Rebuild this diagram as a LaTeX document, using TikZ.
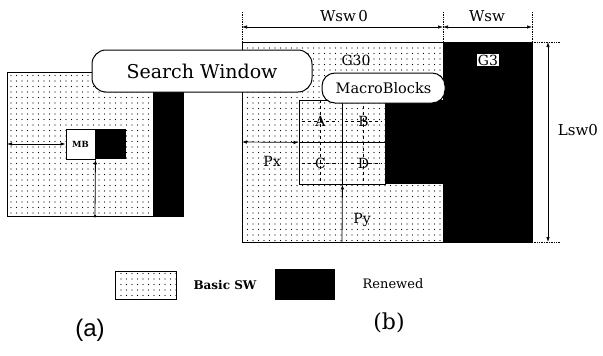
\documentclass[tikz,border=0pt]{standalone}
\usepackage{fontspec}
\setmainfont{DejaVu Serif}
\newfontfamily\capfont{Liberation Sans}
\usepackage{tikz}
\usetikzlibrary{arrows.meta, positioning, patterns.meta}

\begin{document}
\begin{tikzpicture}[
    x=1pt, y=-1pt,
    swarea/.style={pattern={Dots[distance=5.5pt, radius=0.6pt]}, pattern color=black},
    renew/.style={fill=black},
    frame/.style={draw, line width=0.9pt},
    bubble/.style={draw, line width=1pt, fill=white, rounded corners=14pt, align=center},
    cell/.style={draw, line width=0.9pt, minimum width=43pt, minimum height=42pt, inner sep=0pt},
    lbl/.style={inner sep=1pt, font=\fontsize{14}{17}\selectfont},
    dim/.style={{Latex[length=5pt, width=3.5pt]}-{Latex[length=5pt, width=3.5pt]}, line width=0.7pt},
    arr/.style={-{Latex[length=5pt, width=3.5pt]}, line width=0.8pt},
    ext/.style={densely dotted, line width=0.7pt}
  ]
    \useasboundingbox (0,0) rectangle (603,356);

    % (a) one search window
    \fill[swarea] (7,72) rectangle (153,216);
    \fill[renew] (153,72) rectangle (183,216);
    \draw[frame] (7,72) rectangle (183,216);
    \node[frame, fill=white, minimum width=29pt, minimum height=30pt, inner sep=0pt,
      font=\bfseries\fontsize{8.5}{10}\selectfont] (mb) at (80.5,144) {MB};
    \node[fill=black, minimum width=30pt, minimum height=30pt, inner sep=0pt, right=0pt of mb] (mbnew) {};
    \coordinate (aleft) at (7,144);
    \coordinate (abot) at (95,216);
    \draw[dim] (aleft) -- (mb.west);
    \draw[arr] (abot) -- (mb.south east);
    \fill (abot) circle (1.5pt);

    % (b) search window of the 2x2 macroblocks
    \fill[swarea] (242,42) rectangle (443,242);
    \fill[renew] (443,42) rectangle (532,242);
    \fill[renew] (385,100) rectangle (443,184);
    \draw[frame] (242,42) rectangle (532,242);

    \node[cell] (cella) at (320.5,121) {};
    \node[cell] (cellb) at (363.5,121) {};
    \node[cell] (cellc) at (320.5,163) {};
    \node[cell] (celld) at (363.5,163) {};
    \foreach \c in {cella, cellb, cellc, celld}
      \draw[dashed, line width=0.6pt, shorten <=3pt, shorten >=3pt]
        (\c.north) -- (\c.south) (\c.west) -- (\c.east);
    \node[lbl] (la) at (cella) {A};
    \node[lbl] (lb) at (cellb) {B};
    \node[lbl] (lc) at (cellc) {C};
    \node[lbl] (ld) at (celld) {D};

    \coordinate (pxl) at (242,142);
    \coordinate (pyb) at (342,242);
    \draw[dim] (pxl) -- (cella.south west);
    \draw[arr] (pyb) -- (cellc.south east);
    \node[lbl] (px) at (272,161) {Px};
    \node[lbl] (py) at (362,220) {Py};

    \node[lbl] (g30) at (356,60) {G30};
    \node[lbl, fill=white] (g3) at (488,60) {G3};

    \node[bubble, rounded corners=13pt, minimum width=123pt, minimum height=30pt, inner sep=2pt,
      font=\fontsize{14.5}{17}\selectfont] (mblocks) at (383.5,88) {MacroBlocks};
    \node[bubble, minimum width=220pt, minimum height=42pt,
      font=\fontsize{19}{23}\selectfont] (sw) at (202,71) {Search Window};

    % dimensions
    \coordinate (w0l) at (242,27);
    \coordinate (w0r) at (443,27);
    \coordinate (wr) at (532,27);
    \coordinate (ltop) at (548,42);
    \coordinate (lbot) at (548,242);
    \draw[ext] (242,12) -- (242,42) (443,12) -- (443,42) (532,12) -- (532,42);
    \draw[ext] (532,42) -- (560,42) (532,242) -- (560,242);
    \draw[dim] (w0l) -- (w0r);
    \draw[dim] (w0r) -- (wr);
    \draw[dim] (ltop) -- (lbot);
    \node[lbl, font=\fontsize{15}{18}\selectfont] (wsw0) at (344,16) {Wsw\,0};
    \node[lbl, font=\fontsize{15}{18}\selectfont] (wsw) at (487,16) {Wsw};
    \node[lbl, font=\fontsize{15}{18}\selectfont] (lsw0) at (578,130) {Lsw0};

    % legend
    \node[frame, swarea, minimum width=61pt, minimum height=28pt] (keybasic) at (145.5,285) {};
    \node[lbl, font=\bfseries\fontsize{12}{14}\selectfont] (basictxt) at (225,285) {Basic SW};
    \node[fill=black, minimum width=60pt, minimum height=31pt] (keynew) at (305,284.5) {};
    \node[lbl, font=\fontsize{13}{16}\selectfont] (newtxt) at (393,284) {Renewed};

    \node[font=\capfont\fontsize{24}{28}\selectfont] (capa) at (90,330) {(a)};
    \node[font=\fontsize{22}{26}\selectfont] (capb) at (389,323) {(b)};
  \end{tikzpicture}
\end{document}
